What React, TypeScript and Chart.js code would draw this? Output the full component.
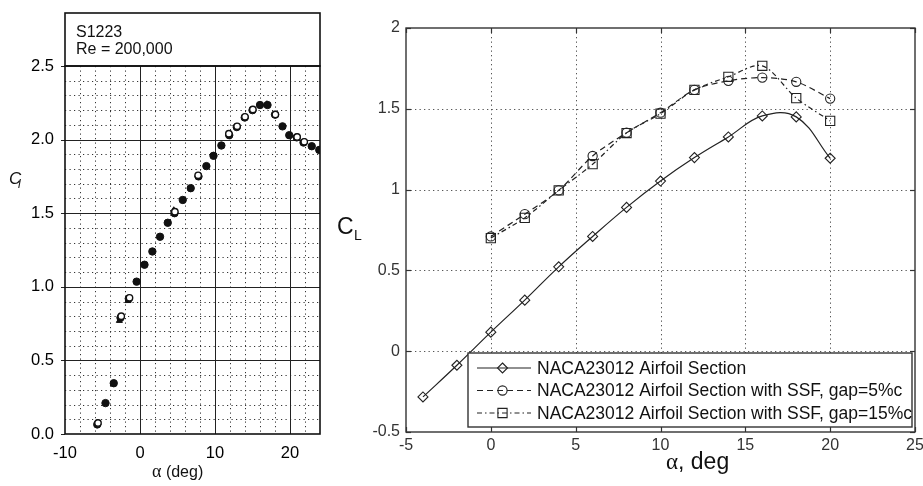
import React, { useEffect, useRef } from "react";
import { Chart, registerables } from "chart.js";

Chart.register(...registerables);

const SANS = '"Liberation Sans", Arial, Helvetica, sans-serif';
const SERIF = '"Liberation Serif", "Times New Roman", serif';

// ---------- Left panel: S1223, Re = 200,000 ----------
const s1223Alpha = [-5.7, -4.6, -3.5, -2.6, -1.5, -0.45, 0.6, 1.65, 2.67, 3.7, 4.6, 5.7, 6.76, 7.8, 8.85, 9.8, 10.85, 11.9, 12.9, 13.96, 15, 16, 17, 18, 19, 19.9, 20.9, 21.8, 22.9, 23.9];
const s1223Cl = [0.065, 0.21, 0.345, 0.79, 0.92, 1.035, 1.15, 1.24, 1.34, 1.435, 1.5, 1.59, 1.67, 1.75, 1.82, 1.89, 1.96, 2.03, 2.085, 2.15, 2.2, 2.235, 2.235, 2.17, 2.09, 2.03, 2.015, 1.98, 1.955, 1.93];
const s1223OpenAlpha = [-5.6, -2.5, -1.4, 4.65, 7.75, 11.85, 12.95, 14.0, 15.05, 18.05, 20.95, 21.9];
const s1223OpenCl = [0.075, 0.8, 0.925, 1.51, 1.757, 2.04, 2.09, 2.155, 2.205, 2.17, 2.018, 1.985];
const s1223TriAlpha = [-2.75, -3.55, -1.6, 4.5, 16.9, 23.95];
const s1223TriCl = [0.77, 0.34, 0.905, 1.52, 2.24, 1.925];
const leftXTicks = [-10, 0, 10, 20];
const leftYTicks = [0, 0.5, 1.0, 1.5, 2.0, 2.5];
const leftTitle = ["S1223", "Re = 200,000"];

// ---------- Right panel: NACA23012 ----------
const nacaAlpha = [-4, -2, 0, 2, 4, 6, 8, 10, 12, 14, 16, 18, 20];
const nacaCl = [-0.283, -0.087, 0.118, 0.316, 0.522, 0.71, 0.89, 1.053, 1.198, 1.326, 1.456, 1.45, 1.194];
const ssfAlpha = [0, 2, 4, 6, 8, 10, 12, 14, 16, 18, 20];
const ssf5Cl = [0.71, 0.848, 0.995, 1.208, 1.352, 1.476, 1.617, 1.673, 1.693, 1.667, 1.563];
const ssf15Cl = [0.70, 0.825, 0.995, 1.157, 1.35, 1.47, 1.617, 1.698, 1.766, 1.566, 1.425];
const rightXTicks = [-5, 0, 5, 10, 15, 20, 25];
const rightYTicks = [-0.5, 0, 0.5, 1, 1.5, 2];
const legendLabels = [
  "NACA23012 Airfoil Section",
  "NACA23012 Airfoil Section with SSF, gap=5%c",
  "NACA23012 Airfoil Section with SSF, gap=15%c",
];

const pts = (xs: number[], ys: number[]) => xs.map((x, i) => ({ x, y: ys[i] }));

function vline(ctx: CanvasRenderingContext2D, x: number, y0: number, y1: number) {
  ctx.beginPath();
  ctx.moveTo(x, y0);
  ctx.lineTo(x, y1);
  ctx.stroke();
}
function hline(ctx: CanvasRenderingContext2D, y: number, x0: number, x1: number) {
  ctx.beginPath();
  ctx.moveTo(x0, y);
  ctx.lineTo(x1, y);
  ctx.stroke();
}
const snap = (v: number) => Math.round(v) + 0.5;

function drawMarker(ctx: CanvasRenderingContext2D, style: string, cx: number, cy: number, r: number) {
  ctx.beginPath();
  if (style === "rectRot") {
    ctx.moveTo(cx, cy - r);
    ctx.lineTo(cx + r, cy);
    ctx.lineTo(cx, cy + r);
    ctx.lineTo(cx - r, cy);
    ctx.closePath();
  } else if (style === "circle") {
    ctx.arc(cx, cy, r, 0, Math.PI * 2);
  } else {
    const s = r * Math.SQRT1_2;
    ctx.rect(cx - s, cy - s, 2 * s, 2 * s);
  }
  ctx.stroke();
}

const leftDecor = {
  id: "leftDecor",
  beforeDatasetsDraw(chart: any) {
    const { ctx, chartArea: a, scales } = chart;
    const x = scales.x;
    const y = scales.y;
    ctx.save();
    ctx.strokeStyle = "#333";
    ctx.lineWidth = 1;
    ctx.setLineDash([1.2, 3.3]);
    for (let v = x.min + 2; v < x.max; v += 2) {
      if (Math.abs(v % 10) < 1e-9) continue;
      vline(ctx, snap(x.getPixelForValue(v)), a.top, a.bottom);
    }
    for (let k = 1; k < 25; k++) {
      if (k % 5 === 0) continue;
      hline(ctx, snap(y.getPixelForValue(k / 10)), a.left, a.right);
    }
    ctx.setLineDash([]);
    ctx.strokeStyle = "#222";
    ctx.lineWidth = 1;
    x.ticks.forEach((t: any) => {
      if (t.value > x.min && t.value < x.max) vline(ctx, snap(x.getPixelForValue(t.value)), a.top, a.bottom);
    });
    y.ticks.forEach((t: any) => {
      if (t.value > y.min && t.value < y.max) hline(ctx, snap(y.getPixelForValue(t.value)), a.left, a.right);
      hline(ctx, snap(y.getPixelForValue(t.value)), a.left - 4, a.left);
    });
    ctx.strokeStyle = "#111";
    ctx.lineWidth = 1.6;
    ctx.strokeRect(a.left, a.top, a.right - a.left, a.bottom - a.top);
    ctx.restore();
  },
  afterDraw(chart: any) {
    const { ctx, chartArea: a } = chart;
    ctx.save();
    ctx.strokeStyle = "#111";
    ctx.lineWidth = 1.6;
    ctx.strokeRect(a.left, 13, a.right - a.left, a.top - 13);
    ctx.fillStyle = "#111";
    ctx.font = `16px ${SANS}`;
    ctx.textBaseline = "alphabetic";
    ctx.textAlign = "left";
    ctx.fillText(leftTitle[0], 76, 37);
    ctx.fillText(leftTitle[1], 76, 54);
    ctx.font = `italic 17px ${SANS}`;
    ctx.fillText("C", 9, 184);
    ctx.font = `italic 12px ${SANS}`;
    ctx.fillText("l", 18, 188);
    ctx.font = `18px ${SERIF}`;
    ctx.fillText("α", 152, 477);
    const aw = ctx.measureText("α").width;
    ctx.font = `16px ${SANS}`;
    ctx.fillText(" (deg)", 152 + aw, 477);
    ctx.restore();
  },
};

const rightDecor = {
  id: "rightDecor",
  beforeDatasetsDraw(chart: any) {
    const { ctx, chartArea: a, scales } = chart;
    const x = scales.x;
    const y = scales.y;
    ctx.save();
    ctx.strokeStyle = "#555";
    ctx.lineWidth = 1;
    ctx.setLineDash([1.3, 3.2]);
    x.ticks.forEach((t: any) => {
      if (t.value > x.min && t.value < x.max) vline(ctx, snap(x.getPixelForValue(t.value)), a.top, a.bottom);
    });
    y.ticks.forEach((t: any) => {
      if (t.value > y.min && t.value < y.max) hline(ctx, snap(y.getPixelForValue(t.value)), a.left, a.right);
    });
    ctx.setLineDash([]);
    ctx.strokeStyle = "#333";
    ctx.lineWidth = 1.2;
    x.ticks.forEach((t: any) => {
      const p = snap(x.getPixelForValue(t.value));
      vline(ctx, p, a.bottom, a.bottom - 5);
      vline(ctx, p, a.top, a.top + 5);
    });
    y.ticks.forEach((t: any) => {
      const p = snap(y.getPixelForValue(t.value));
      hline(ctx, p, a.left, a.left + 5);
      hline(ctx, p, a.right, a.right - 5);
    });
    ctx.lineWidth = 1.4;
    ctx.strokeRect(a.left, a.top, a.right - a.left, a.bottom - a.top);
    ctx.restore();
  },
  afterDatasetsDraw(chart: any) {
    const { ctx } = chart;
    const ds = chart.data.datasets;
    ctx.save();
    const lx = 138, ly = 353, lw = 444, lh = 74;
    ctx.fillStyle = "#fff";
    ctx.fillRect(lx, ly, lw, lh);
    ctx.strokeStyle = "#333";
    ctx.lineWidth = 1.4;
    ctx.strokeRect(lx, ly, lw, lh);
    const rows = [368, 390.5, 413];
    legendLabels.forEach((label, i) => {
      const d = ds[i];
      const cy = rows[i];
      ctx.strokeStyle = d.borderColor;
      ctx.lineWidth = d.borderWidth;
      ctx.setLineDash(d.borderDash || []);
      hline(ctx, cy, 147, 201);
      ctx.setLineDash([]);
      ctx.lineWidth = d.pointBorderWidth;
      ctx.strokeStyle = d.pointBorderColor;
      drawMarker(ctx, d.pointStyle, 172.5, cy, d.pointRadius);
      ctx.fillStyle = "#111";
      ctx.font = `17.5px ${SANS}`;
      ctx.textAlign = "left";
      ctx.textBaseline = "middle";
      ctx.fillText(label, 207, cy + 1);
    });
    ctx.restore();
  },
  afterDraw(chart: any) {
    const { ctx } = chart;
    ctx.save();
    ctx.fillStyle = "#111";
    ctx.textAlign = "left";
    ctx.textBaseline = "alphabetic";
    ctx.font = `23px ${SANS}`;
    ctx.fillText("C", 7, 234);
    ctx.font = `14px ${SANS}`;
    ctx.fillText("L", 24, 240);
    ctx.font = `23px ${SERIF}`;
    ctx.fillText("α", 336, 469);
    const aw = ctx.measureText("α").width;
    ctx.font = `23px ${SANS}`;
    ctx.fillText(", deg", 336 + aw, 469);
    ctx.restore();
  },
};

function zeroPad(s: any) {
  s.paddingLeft = 0;
  s.paddingRight = 0;
  s.paddingTop = 0;
  s.paddingBottom = 0;
}

export default function App() {
  const leftRef = useRef<HTMLCanvasElement>(null);
  const rightRef = useRef<HTMLCanvasElement>(null);

  useEffect(() => {
    const left = new Chart(leftRef.current as HTMLCanvasElement, {
      type: "scatter",
      data: {
        datasets: [
          {
            data: pts(s1223Alpha, s1223Cl),
            pointStyle: "circle",
            pointRadius: 3.7,
            pointBackgroundColor: "#111",
            pointBorderColor: "#111",
            pointBorderWidth: 1,
            showLine: false,
            order: 3,
          },
          {
            data: pts(s1223TriAlpha, s1223TriCl),
            pointStyle: "triangle",
            pointRadius: 3.5,
            pointBackgroundColor: "#111",
            pointBorderColor: "#111",
            pointBorderWidth: 1,
            showLine: false,
            order: 2,
          },
          {
            data: pts(s1223OpenAlpha, s1223OpenCl),
            pointStyle: "circle",
            pointRadius: 3.2,
            pointBackgroundColor: "#fff",
            pointBorderColor: "#111",
            pointBorderWidth: 1.4,
            showLine: false,
            order: 1,
          },
        ] as any,
      },
      options: {
        responsive: false,
        animation: false,
        events: [],
        layout: { padding: { left: 0, right: 10, top: 66, bottom: 0 } },
        plugins: { legend: { display: false }, tooltip: { enabled: false } },
        scales: {
          x: {
            type: "linear",
            min: -10,
            max: 24,
            afterBuildTicks: (s: any) => {
              s.ticks = leftXTicks.map((v) => ({ value: v }));
            },
            afterFit: (s: any) => {
              s.height = 52;
              zeroPad(s);
            },
            grid: { display: false, drawTicks: false },
            border: { display: false },
            ticks: {
              padding: 10,
              autoSkip: false,
              maxRotation: 0,
              color: "#000",
              font: { family: SANS, size: 16.5 },
              callback: (v: any) => String(v),
            },
          },
          y: {
            type: "linear",
            min: 0,
            max: 2.5,
            afterBuildTicks: (s: any) => {
              s.ticks = leftYTicks.map((v) => ({ value: v }));
            },
            afterFit: (s: any) => {
              s.width = 65;
              zeroPad(s);
            },
            grid: { display: false, drawTicks: false },
            border: { display: false },
            ticks: {
              padding: 11,
              autoSkip: false,
              color: "#000",
              font: { family: SANS, size: 16.5 },
              callback: (v: any) => Number(v).toFixed(1),
            },
          },
        },
      } as any,
      plugins: [leftDecor],
    });

    const right = new Chart(rightRef.current as HTMLCanvasElement, {
      type: "scatter",
      data: {
        datasets: [
          {
            data: pts(nacaAlpha, nacaCl),
            showLine: true,
            tension: 0.4,
            borderColor: "#222",
            borderWidth: 1.2,
            borderDash: [],
            pointStyle: "rectRot",
            pointRadius: 5,
            pointBackgroundColor: "rgba(0,0,0,0)",
            pointBorderColor: "#222",
            pointBorderWidth: 1.1,
            fill: false,
          },
          {
            data: pts(ssfAlpha, ssf5Cl),
            showLine: true,
            tension: 0.3,
            borderColor: "#222",
            borderWidth: 1.2,
            borderDash: [6, 4],
            pointStyle: "circle",
            pointRadius: 4.6,
            pointBackgroundColor: "rgba(0,0,0,0)",
            pointBorderColor: "#222",
            pointBorderWidth: 1.1,
            fill: false,
          },
          {
            data: pts(ssfAlpha, ssf15Cl),
            showLine: true,
            tension: 0.3,
            borderColor: "#222",
            borderWidth: 1.2,
            borderDash: [5, 3, 1.5, 3],
            pointStyle: "rect",
            pointRadius: 6.5,
            pointBackgroundColor: "rgba(0,0,0,0)",
            pointBorderColor: "#222",
            pointBorderWidth: 1.1,
            fill: false,
          },
        ] as any,
      },
      options: {
        responsive: false,
        animation: false,
        events: [],
        layout: { padding: { left: 0, right: 8, top: 28, bottom: 0 } },
        plugins: { legend: { display: false }, tooltip: { enabled: false } },
        scales: {
          x: {
            type: "linear",
            min: -5,
            max: 25,
            afterBuildTicks: (s: any) => {
              s.ticks = rightXTicks.map((v) => ({ value: v }));
            },
            afterFit: (s: any) => {
              s.height = 54;
              zeroPad(s);
            },
            grid: { display: false, drawTicks: false },
            border: { display: false },
            ticks: {
              padding: 4,
              autoSkip: false,
              maxRotation: 0,
              color: "#333",
              font: { family: SANS, size: 16 },
              callback: (v: any) => String(v),
            },
          },
          y: {
            type: "linear",
            min: -0.5,
            max: 2,
            afterBuildTicks: (s: any) => {
              s.ticks = rightYTicks.map((v) => ({ value: v }));
            },
            afterFit: (s: any) => {
              s.width = 76;
              zeroPad(s);
            },
            grid: { display: false, drawTicks: false },
            border: { display: false },
            ticks: {
              padding: 6,
              autoSkip: false,
              color: "#333",
              font: { family: SANS, size: 16 },
              callback: (v: any) => String(v),
            },
          },
        },
      } as any,
      plugins: [rightDecor],
    });

    return () => {
      left.destroy();
      right.destroy();
    };
  }, []);

  return (
    <div style={{ position: "absolute", left: 0, top: 0, width: 923, height: 486, background: "#fff" }}>
      <canvas
        ref={leftRef}
        width={330}
        height={486}
        style={{ position: "absolute", left: 0, top: 0, width: 330, height: 486 }}
      />
      <canvas
        ref={rightRef}
        width={593}
        height={486}
        style={{ position: "absolute", left: 330, top: 0, width: 593, height: 486 }}
      />
    </div>
  );
}
